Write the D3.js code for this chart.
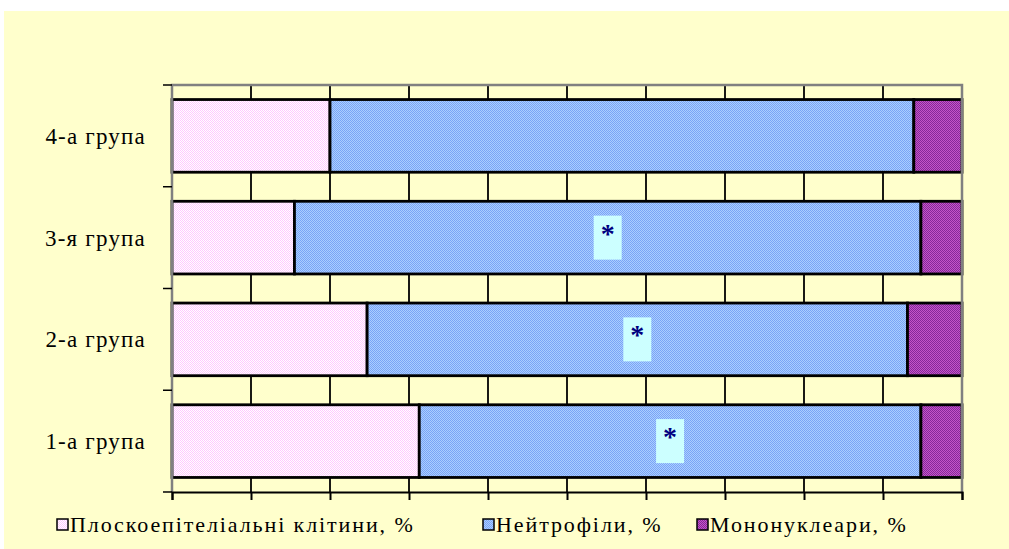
<!DOCTYPE html>
<html>
<head>
<meta charset="utf-8">
<script src="https://cdn.jsdelivr.net/npm/d3@7"></script>
<style>
  body { margin: 0; background: #fff; }
</style>
</head>
<body>
<svg id="chart" width="1009" height="549"></svg>
<script>
// groups listed bottom to top, as in the picture
var groups = ["1-а група", "2-а група", "3-я група", "4-а група"];
var epithelial = [31.3, 24.7, 15.5, 20.0];
var neutrophils = [63.5, 68.4, 79.3, 73.9];
var mononuclear = [5.2, 6.9, 5.2, 6.1];
var starred = [true, true, true, false];
var seriesNames = ["Плоскоепітеліальні клітини, %", "Нейтрофіли, %", "Мононуклеари, %"];
var xTicks = [0, 10, 20, 30, 40, 50, 60, 70, 80, 90, 100];

var serif = "'Liberation Serif', 'DejaVu Serif', serif";
var svg = d3.select("#chart");
var W = 1009, H = 549;
var pLeft = 172, pRight = 962, pTop = 85, pBottom = 492;

// chart background
svg.append("rect").attr("x", 4).attr("y", 11).attr("width", W - 4).attr("height", H - 11)
    .attr("fill", "#ffffcc");

// dither patterns like the old office fills
var defs = svg.append("defs");
var pats = [
  {id: "pPink", a: "#ffffff", b: "#ffc8ff"},
  {id: "pBlue", a: "#aaceff", b: "#7aa4f6"},
  {id: "pPurple", a: "#c455c8", b: "#86289a"}
];
pats.forEach(function(p) {
  var pt = defs.append("pattern").attr("id", p.id).attr("width", 2).attr("height", 2)
      .attr("patternUnits", "userSpaceOnUse");
  pt.append("rect").attr("width", 2).attr("height", 2).attr("fill", p.a);
  pt.append("rect").attr("width", 1).attr("height", 1).attr("fill", p.b);
  pt.append("rect").attr("x", 1).attr("y", 1).attr("width", 1).attr("height", 1).attr("fill", p.b);
});
var fills = ["url(#pPink)", "url(#pBlue)", "url(#pPurple)"];

var x = d3.scaleLinear().domain([0, 100]).range([pLeft, pRight]);
var y = d3.scaleBand().domain(groups.slice().reverse()).range([pTop, pBottom])
    .paddingInner(0.2857).paddingOuter(0.1429);

// gridlines
svg.append("g").selectAll("line").data(xTicks.slice(1, -1)).enter().append("line")
    .attr("x1", function(d) { return x(d); }).attr("x2", function(d) { return x(d); })
    .attr("y1", pTop).attr("y2", pBottom)
    .attr("stroke", "#000").attr("stroke-width", 1.8);

// stacked data
var rows = groups.map(function(g, i) {
  return {group: g, epithelial: epithelial[i], neutrophils: neutrophils[i], mononuclear: mononuclear[i], star: starred[i]};
});
var stack = d3.stack().keys(["epithelial", "neutrophils", "mononuclear"]).offset(d3.stackOffsetExpand);
var layers = stack(rows);

svg.append("g").selectAll("g").data(layers).enter().append("g")
    .attr("fill", function(d, i) { return fills[i]; })
  .selectAll("rect").data(function(d) { return d; }).enter().append("rect")
    .attr("x", function(d) { return x(d[0] * 100); })
    .attr("width", function(d) { return x(d[1] * 100) - x(d[0] * 100); })
    .attr("y", function(d) { return y(d.data.group); })
    .attr("height", y.bandwidth())
    .attr("stroke", "#000").attr("stroke-width", 2.8);

// significance markers on the neutrophil segment
var marks = svg.append("g").selectAll("g").data(layers[1].filter(function(d) { return d.data.star; }))
    .enter().append("g")
    .attr("transform", function(d) {
      return "translate(" + x((d[0] + d[1]) * 50) + "," + (y(d.data.group) + y.bandwidth() / 2) + ")";
    });
marks.append("rect").attr("x", -14).attr("y", -22).attr("width", 28).attr("height", 44)
    .attr("fill", "#ccffff");
marks.append("text").attr("text-anchor", "middle").attr("y", 5)
    .style("font-family", serif)
    .style("font-size", "28px").style("font-weight", "bold").style("fill", "#000080")
    .text("*");

// plot frame
svg.append("path")
    .attr("d", "M" + pLeft + "," + pBottom + "V" + pTop + "H" + pRight + "V" + pBottom)
    .attr("fill", "none").attr("stroke", "#808080").attr("stroke-width", 2.5);

// bottom axis
var xAxis = svg.append("g").attr("transform", "translate(0," + pBottom + ")")
    .call(d3.axisBottom(x).tickValues(xTicks).tickSize(8).tickFormat(""));
xAxis.select(".domain").attr("stroke", "#000").attr("stroke-width", 2);
xAxis.selectAll(".tick line").attr("stroke", "#000").attr("stroke-width", 2);

// left axis ticks at band edges
var edges = d3.range(groups.length + 1).map(function(i) { return pTop + i * y.step(); });
svg.append("g").selectAll("line").data(edges).enter().append("line")
    .attr("x1", pLeft - 9).attr("x2", pLeft).attr("y1", function(d) { return d; }).attr("y2", function(d) { return d; })
    .attr("stroke", "#000").attr("stroke-width", 1.5);

// category labels
svg.append("g").selectAll("text").data(groups).enter().append("text")
    .attr("x", 146).attr("y", function(d) { return y(d) + y.bandwidth() / 2 + 8; })
    .attr("text-anchor", "end")
    .style("font-family", serif).style("fill", "#000")
    .style("font-size", "23px").style("letter-spacing", "1.2px")
    .text(function(d) { return d; });

// legend
var legendX = [57, 483, 697];
var leg = svg.append("g").selectAll("g").data(seriesNames).enter().append("g")
    .attr("transform", function(d, i) { return "translate(" + legendX[i] + ",519)"; });
leg.append("rect").attr("width", 11).attr("height", 11)
    .attr("fill", function(d, i) { return fills[i]; })
    .attr("stroke", "#000").attr("stroke-width", 1.5);
leg.append("text").attr("x", 13).attr("y", 13)
    .style("font-family", serif).style("fill", "#000")
    .style("font-size", "22px").style("letter-spacing", "1.9px")
    .text(function(d) { return d; });
</script>
</body>
</html>
